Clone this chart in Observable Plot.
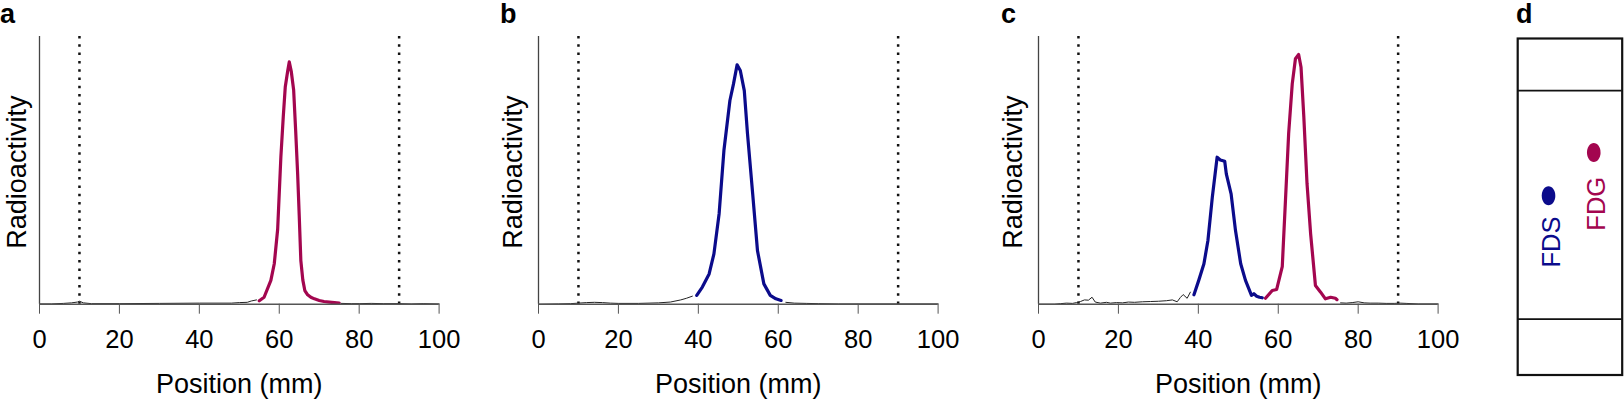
<!DOCTYPE html>
<html>
<head>
<meta charset="utf-8">
<script src="https://cdn.jsdelivr.net/npm/d3@7"></script>
<script src="https://cdn.jsdelivr.net/npm/@observablehq/plot@0.6"></script>
<style>
  html, body { margin: 0; padding: 0; background: #fff; }
  #wrap { position: relative; width: 1624px; height: 399px; overflow: hidden; font-family: "Liberation Sans", Arial, sans-serif; }
  .panel { position: absolute; top: 0; }
  .letter { position: absolute; top: 1px; font-weight: bold; font-size: 27px; line-height: 27px; color: #000; }
  svg { overflow: visible; }
</style>
</head>
<body>
<div id="wrap"></div>
<script>
// ---------- DATA ----------
const xTicks = [0, 20, 40, 60, 80, 100];
const guideLines = [10, 90];            // dotted origin / solvent-front positions (mm)
const panelLetters = ["a", "b", "c", "d"];
const xLabel = "Position (mm)";
const yLabel = "Radioactivity";

// Panel a (FDG only)
const aBgLeftX  = [0, 3, 6, 8, 9.5, 10, 11, 13, 20, 30, 40, 48, 50, 52, 53, 54.3];
const aBgLeftY  = [0.001, 0.001, 0.003, 0.005, 0.008, 0.011, 0.005, 0.002, 0.002, 0.003, 0.004, 0.004, 0.006, 0.007, 0.012, 0.016];
const aFdgX     = [55, 56.2, 57.9, 58.75, 59.6, 60.4, 61.0, 61.5, 62.1, 62.5, 63.0, 63.6, 64.1, 64.6, 65.0, 65.4, 65.9, 66.4, 67.1, 67.9, 68.8, 70, 71.2, 72.5, 73.8, 75];
const aFdgY     = [0.013, 0.026, 0.089, 0.151, 0.28, 0.549, 0.70, 0.811, 0.87, 0.905, 0.87, 0.80, 0.65, 0.487, 0.33, 0.163, 0.09, 0.051, 0.035, 0.026, 0.02, 0.014, 0.010, 0.008, 0.006, 0.004];
const aBgRightX = [75.5, 78, 80, 83, 86, 90, 93, 96, 100];
const aBgRightY = [0.003, 0.002, 0.002, 0.003, 0.002, 0.002, 0.001, 0.002, 0.001];

// Panel b (FDS only)
const bBgLeftX  = [0, 5, 8, 10, 12, 14, 16, 18, 20, 25, 30, 33, 35.6, 37, 38.5];
const bBgLeftY  = [0, 0.001, 0.002, 0.004, 0.006, 0.007, 0.006, 0.004, 0.003, 0.003, 0.005, 0.008, 0.016, 0.022, 0.03];
const bFdsX     = [39.6, 41.0, 42.7, 43.9, 45.2, 46.4, 47.9, 48.8, 49.7, 50.5, 51.5, 52.3, 53.6, 54.8, 56.4, 58.0, 59.4, 60.7];
const bFdsY     = [0.033, 0.064, 0.113, 0.188, 0.338, 0.574, 0.761, 0.823, 0.894, 0.873, 0.798, 0.637, 0.412, 0.2, 0.076, 0.033, 0.02, 0.014];
const bBgRightX = [61.9, 64, 67, 70, 75, 80, 90, 100];
const bBgRightY = [0.007, 0.004, 0.003, 0.002, 0.001, 0.001, 0.001, 0.001];

// Panel c (mixture)
const cBgLeftX  = [0, 4, 5.5, 7, 8.5, 9.5, 10.5, 11.5, 12.5, 13.4, 14.2, 15.5, 17, 18, 19.5, 21, 22.5, 24, 26, 28, 30, 32, 33.5, 34.7, 35.5, 36.2, 37.2, 38.0];
const cBgLeftY  = [0, 0, 0.002, 0.004, 0.003, 0.006, 0.01, 0.016, 0.015, 0.026, 0.008, 0.004, 0.007, 0.004, 0.006, 0.005, 0.008, 0.007, 0.009, 0.010, 0.011, 0.013, 0.016, 0.009, 0.025, 0.036, 0.022, 0.045];
const cFdsX     = [38.9, 40.1, 41.4, 42.4, 43.5, 44.7, 45.5, 46.6, 47.0, 48.2, 49.3, 50.6, 51.8, 53.3, 53.9, 54.6, 55.3, 56.0];
const cFdsY     = [0.035, 0.089, 0.151, 0.238, 0.40, 0.549, 0.539, 0.534, 0.487, 0.412, 0.275, 0.151, 0.089, 0.033, 0.039, 0.03, 0.026, 0.024];
const cFdgX     = [56.8, 58.5, 59.6, 61.0, 61.8, 62.6, 63.5, 64.3, 65.1, 65.7, 66.4, 67.2, 68.1, 69.3, 70.6, 71.8, 73.1, 74.3, 74.7];
const cFdgY     = [0.022, 0.051, 0.055, 0.14, 0.387, 0.637, 0.823, 0.917, 0.933, 0.885, 0.699, 0.45, 0.263, 0.07, 0.045, 0.02, 0.026, 0.022, 0.017];
const cBgRightX = [75.6, 77, 78.5, 80, 81.5, 83, 85, 87, 89, 90.5, 92, 95, 100];
const cBgRightY = [0.005, 0.004, 0.006, 0.009, 0.005, 0.004, 0.004, 0.003, 0.003, 0.004, 0.003, 0.001, 0.001];

// Panel d (TLC plate sketch), coordinates in plate units (0–100 across and up)
const plateLines = [16.6, 84.5];                 // origin and solvent front
const spotNames  = ["FDS", "FDG"];
const spotLane   = [29.5, 72.8];
const spotHeight = [53.3, 66.1];
const labelLane  = [32.5, 75.7];
const labelHeight= [39.5, 50.9];

// ---------- STYLE ----------
const FONT = "'Liberation Sans', Arial, sans-serif";
const BLACK = "#222";
const FDS_COLOR = "#0b0b8b";
const FDG_COLOR = "#a3064f";

const zip = (xs, ys) => xs.map((x, i) => ({x, y: ys[i]}));

function chromPanel(segments, yLabelDx) {
  const marks = [
    Plot.ruleX(guideLines, {stroke: "#111", strokeWidth: 2.5, strokeDasharray: "2.5,5.8"}),
    ...segments.map(s => Plot.line(zip(s.x, s.y), {x: "x", y: "y", stroke: s.color, strokeWidth: s.width, strokeLinejoin: "round"})),
    Plot.ruleY([0], {stroke: "#555", strokeWidth: 1.5}),
    Plot.ruleX([0], {stroke: "#444", strokeWidth: 1.3}),
    Plot.axisX({ticks: xTicks, tickSize: 10, tickPadding: 15.5, fontSize: 25.5, stroke: "#555", fill: "#000", label: null}),
    Plot.text([xLabel], {text: d => d, frameAnchor: "bottom", textAnchor: "middle", dy: 80.3, lineAnchor: "middle", fontSize: 27, fill: "#000"}),
    Plot.text([yLabel], {text: d => d, frameAnchor: "left", textAnchor: "middle", rotate: -90, dx: yLabelDx, dy: 1.8, lineAnchor: "middle", fontSize: 27, fill: "#000"})
  ];
  return Plot.plot({
    width: 460, height: 399,
    marginLeft: 40, marginRight: 20.4, marginTop: 36, marginBottom: 95.3,
    x: {domain: [0, 100]},
    y: {domain: [0, 1], axis: null},
    style: {fontFamily: FONT, fontSize: "25px", background: "transparent", overflow: "visible"},
    marks
  });
}

const bg = (x, y) => ({x, y, color: BLACK, width: 1});
const fds = (x, y) => ({x, y, color: FDS_COLOR, width: 3.2});
const fdg = (x, y) => ({x, y, color: FDG_COLOR, width: 3.2});

const panels = [
  {left: -1.3, el: chromPanel([bg(aBgLeftX, aBgLeftY), fdg(aFdgX, aFdgY), bg(aBgRightX, aBgRightY)], -22.5)},
  {left: 498, el: chromPanel([bg(bBgLeftX, bBgLeftY), fds(bFdsX, bFdsY), bg(bBgRightX, bBgRightY)], -25.5)},
  {left: 998, el: chromPanel([bg(cBgLeftX, cBgLeftY), fds(cFdsX, cFdsY), fdg(cFdgX, cFdgY), bg(cBgRightX, cBgRightY)], -25.5)}
];

// ellipse symbol for TLC spots
const ellipse = {
  draw(context) {
    const rx = 6.8, ry = 9.5, k = 0.5523;
    context.moveTo(rx, 0);
    context.bezierCurveTo(rx, k * ry, k * rx, ry, 0, ry);
    context.bezierCurveTo(-k * rx, ry, -rx, k * ry, -rx, 0);
    context.bezierCurveTo(-rx, -k * ry, -k * rx, -ry, 0, -ry);
    context.bezierCurveTo(k * rx, -ry, rx, -k * ry, rx, 0);
    context.closePath();
  }
};
const spotColors = [FDS_COLOR, FDG_COLOR];
const spots = spotNames.map((name, i) => ({name, x: spotLane[i], y: spotHeight[i], lx: labelLane[i], ly: labelHeight[i], color: spotColors[i]}));

const plate = Plot.plot({
  width: 124, height: 399,
  marginLeft: 17.2, marginRight: 2.3, marginTop: 38, marginBottom: 24.5,
  x: {domain: [0, 100], axis: null},
  y: {domain: [0, 100], axis: null},
  color: {type: "identity"},
  style: {fontFamily: FONT, fontSize: "25px", background: "transparent", overflow: "visible"},
  marks: [
    Plot.frame({stroke: "#111", strokeWidth: 2.2}),
    Plot.ruleY(plateLines, {stroke: "#111", strokeWidth: 1.6}),
    Plot.dot(spots, {x: "x", y: "y", symbol: ellipse, fill: d => d.color, stroke: "none"}),
    Plot.text(spots, {x: "lx", y: "ly", text: "name", rotate: -90, fill: d => d.color, fontSize: 25.5, lineAnchor: "middle"})
  ]
});
panels.push({left: 1500, el: plate});

const wrap = document.getElementById("wrap");
for (const p of panels) {
  const div = document.createElement("div");
  div.className = "panel";
  div.style.left = p.left + "px";
  div.appendChild(p.el);
  wrap.appendChild(div);
}
const letterLeft = [0, 500, 1001, 1516];
panelLetters.forEach((t, i) => {
  const s = document.createElement("div");
  s.className = "letter";
  s.style.left = letterLeft[i] + "px";
  s.textContent = t;
  wrap.appendChild(s);
});
</script>
</body>
</html>
